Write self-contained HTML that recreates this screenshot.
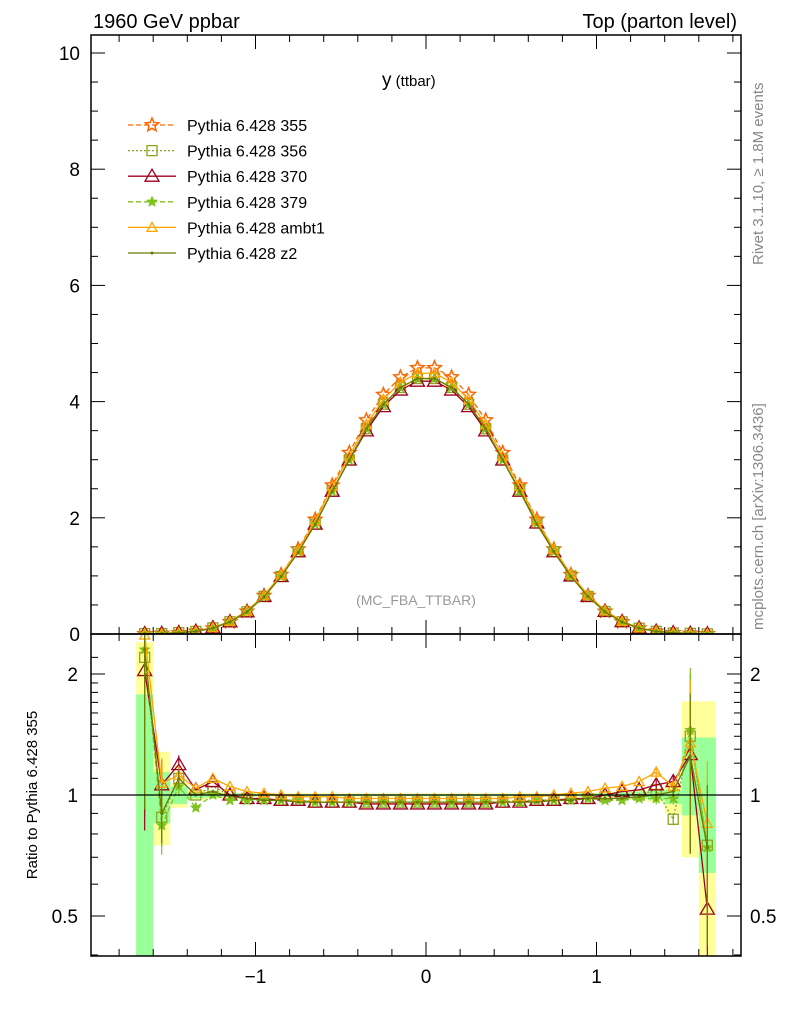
<!DOCTYPE html>
<html><head><meta charset="utf-8"><style>
html,body{margin:0;padding:0;background:#fff;width:786px;height:1024px;overflow:hidden}
svg{display:block;font-family:"Liberation Sans",sans-serif}
</style></head><body>
<svg id="c" width="786" height="1024" viewBox="0 0 786 1024" xmlns="http://www.w3.org/2000/svg"></svg>
<script>
const xCenters=[-1.65,-1.55,-1.45,-1.35,-1.25,-1.15,-1.05,-0.95,-0.85,-0.75,-0.65,-0.55,-0.45,-0.35,-0.25,-0.15,-0.05,0.05,0.15,0.25,0.35,0.45,0.55,0.65,0.75,0.85,0.95,1.05,1.15,1.25,1.35,1.45,1.55,1.65];
const ref355=[0.003,0.008,0.02,0.045,0.10,0.21,0.39,0.66,1.02,1.46,1.97,2.56,3.12,3.68,4.12,4.42,4.58,4.58,4.42,4.12,3.68,3.12,2.56,1.97,1.46,1.02,0.66,0.39,0.21,0.10,0.045,0.02,0.008,0.003];
const r356=[2.2,0.88,1.1,1.0,1.05,1.0,0.98,0.98,0.97,0.97,0.96,0.96,0.96,0.96,0.96,0.96,0.96,0.96,0.96,0.96,0.96,0.96,0.97,0.97,0.97,0.98,0.98,0.99,1.0,1.0,1.03,0.87,1.4,0.75];
const r370=[2.04,1.06,1.19,1.03,1.08,1.0,0.98,0.98,0.97,0.97,0.96,0.96,0.96,0.95,0.95,0.95,0.95,0.95,0.95,0.95,0.95,0.96,0.96,0.97,0.97,0.98,0.98,1.0,1.02,1.03,1.06,1.08,1.26,0.52];
const r379=[2.3,0.84,1.05,0.93,1.0,0.97,0.97,0.97,0.97,0.97,0.96,0.96,0.96,0.96,0.96,0.96,0.96,0.96,0.96,0.96,0.96,0.96,0.96,0.97,0.97,0.97,0.98,0.97,0.97,0.98,0.98,0.98,1.45,0.74];
const rAmbt1=[2.5,1.07,1.12,1.04,1.1,1.05,1.02,1.01,1.0,0.99,0.99,0.99,0.98,0.98,0.98,0.98,0.98,0.98,0.98,0.98,0.98,0.98,0.99,0.99,1.0,1.01,1.02,1.04,1.05,1.08,1.14,1.05,1.35,0.85];
const rZ2=[2.3,0.9,1.1,1.0,1.02,0.99,0.98,0.97,0.97,0.96,0.96,0.96,0.96,0.96,0.96,0.96,0.96,0.96,0.96,0.96,0.96,0.96,0.96,0.96,0.97,0.97,0.98,0.98,0.98,0.99,1.0,1.02,1.25,0.74];
const statLo=[0.1,0.85,0.95,0.98,0.985,0.99,0.99,0.995,0.995,0.995,0.995,0.995,0.995,0.995,0.995,0.995,0.995,0.995,0.995,0.995,0.995,0.995,0.995,0.995,0.995,0.995,0.99,0.99,0.985,0.98,0.97,0.95,0.89,0.64];
const statHi=[1.78,1.14,1.05,1.02,1.015,1.01,1.01,1.005,1.005,1.005,1.005,1.005,1.005,1.005,1.005,1.005,1.005,1.005,1.005,1.005,1.005,1.005,1.005,1.005,1.005,1.005,1.01,1.01,1.015,1.02,1.03,1.03,1.39,1.39];
const totLo=[0.1,0.75,0.93,0.97,0.98,0.985,0.99,0.99,0.99,0.99,0.99,0.99,0.99,0.99,0.99,0.99,0.99,0.99,0.99,0.99,0.99,0.99,0.99,0.99,0.99,0.99,0.99,0.985,0.98,0.975,0.96,0.9,0.7,0.1];
const totHi=[2.4,1.28,1.07,1.03,1.02,1.015,1.01,1.01,1.01,1.01,1.01,1.01,1.01,1.01,1.01,1.01,1.01,1.01,1.01,1.01,1.01,1.01,1.01,1.01,1.01,1.01,1.01,1.015,1.02,1.025,1.04,1.07,1.71,1.71];
const mainTicks=[0,2,4,6,8,10];
const ratioTicks=[0.5,1,2];
const xTicks=[-1,0,1];

const NS="http://www.w3.org/2000/svg";
const svg=document.getElementById('c');
function el(tag,attrs,parent){const e=document.createElementNS(NS,tag);for(const k in attrs)e.setAttribute(k,attrs[k]);(parent||svg).appendChild(e);return e;}
const L=91,R=741,MT=35,MB=634,RT=634,RB=956;
const X=v=>426+v*170.5;
const YM=v=>634-v*58.1;
const YR=v=>795-Math.log2(v)*121;
const clampR=y=>Math.max(RT,Math.min(RB,y));

const defs=el('defs',{});
const c1=el('clipPath',{id:'cm'},defs);el('rect',{x:L,y:MT,width:R-L,height:MB-MT},c1);
const c2=el('clipPath',{id:'cr'},defs);el('rect',{x:L,y:RT,width:R-L,height:RB-RT},c2);

const gb=el('g',{'clip-path':'url(#cr)'});

xCenters.forEach((x,i)=>{
  const x0=X(x-0.05),x1=X(x+0.05);
  const yb=el('rect',{x:x0,y:YR(totHi[i]),width:x1-x0,height:YR(totLo[i])-YR(totHi[i]),fill:'#ffff99'},gb);
  
  const g=el('rect',{x:x0,y:YR(statHi[i]),width:x1-x0,height:YR(statLo[i])-YR(statHi[i]),fill:'#99ff99'},gb);
  
});

const series=[
 {name:'Pythia 6.428 355',r:xCenters.map(()=>1),color:'#ff6600',dash:'5,3',marker:'star',key:'355'},
 {name:'Pythia 6.428 356',r:r356,color:'#8ca51c',dash:'2,2',marker:'square',key:'356'},
 {name:'Pythia 6.428 370',r:r370,color:'#a00020',dash:'',marker:'tri',key:'370'},
 {name:'Pythia 6.428 379',r:r379,color:'#7fc31c',dash:'5,3',marker:'smallstar',key:'379'},
 {name:'Pythia 6.428 ambt1',r:rAmbt1,color:'#ffa500',dash:'',marker:'smalltri',key:'ambt1'},
 {name:'Pythia 6.428 z2',r:rZ2,color:'#6b7b00',dash:'',marker:'dot',key:'z2'}
];
function star(cx,cy,s){let p=[];for(let k=0;k<10;k++){const a=-Math.PI/2+k*Math.PI/5,rr=k%2?s*0.45:s;p.push((cx+rr*Math.cos(a)).toFixed(1)+','+(cy+rr*Math.sin(a)).toFixed(1));}return p.join(' ');}
function marker(g,m,cx,cy,col){
  let e;
  if(m==='star')e=el('polygon',{points:star(cx,cy,7),fill:'none',stroke:col,'stroke-width':1.5},g);
  else if(m==='smallstar')e=el('polygon',{points:star(cx,cy,5),fill:col,stroke:col,'stroke-width':1},g);
  else if(m==='square')e=el('rect',{x:cx-5,y:cy-5,width:10,height:10,fill:'none',stroke:col,'stroke-width':1.3},g);
  else if(m==='tri')e=el('polygon',{points:`${cx},${cy-7} ${cx-7},${cy+5} ${cx+7},${cy+5}`,fill:'none',stroke:col,'stroke-width':1.3},g);
  else if(m==='smalltri')e=el('polygon',{points:`${cx},${cy-5} ${cx-5},${cy+4} ${cx+5},${cy+4}`,fill:'none',stroke:col,'stroke-width':1.3},g);
  else e=el('circle',{cx:cx,cy:cy,r:1.5,fill:col},g);
  
}
series.forEach(s=>{
  const gm=el('g',{'clip-path':'url(#cm)'});
  
  const pts=xCenters.map((x,i)=>[X(x),YM(ref355[i]*s.r[i])]);
  const pl=el('polyline',{points:pts.map(p=>p.join(',')).join(' '),fill:'none',stroke:s.color,'stroke-width':1.3,'stroke-dasharray':s.dash},gm);
  
  pts.forEach(p=>marker(gm,s.marker,p[0],p[1],s.color));
  const gr=el('g',{'clip-path':'url(#cr)'});
  
  const rp=xCenters.map((x,i)=>[X(x),YR(s.r[i])]);
  if(s.key!=='355'){
    const rl=el('polyline',{points:rp.map(p=>p.join(',')).join(' '),fill:'none',stroke:s.color,'stroke-width':1.3,'stroke-dasharray':s.dash},gr);
    
    rp.forEach((p,i)=>{
      const e=Math.min(0.6,Math.abs(statHi[i]-1)*1.1);
      if(e>0.03){const eb=el('line',{x1:p[0],x2:p[0],y1:clampR(YR(s.r[i]*(1+e))),y2:clampR(YR(Math.max(0.05,s.r[i]*(1-e)))),stroke:s.color,'stroke-width':1.2},gr);
        }
      marker(gr,s.marker,p[0],p[1],s.color);
    });
  }
});
const one=el('line',{x1:L,x2:R,y1:YR(1),y2:YR(1),stroke:'#000','stroke-width':1.2});


const f1=el('rect',{x:L,y:MT,width:R-L,height:MB-MT,fill:'none',stroke:'#000','stroke-width':1.5});

const f2=el('rect',{x:L,y:RT,width:R-L,height:RB-RT,fill:'none',stroke:'#000','stroke-width':1.5});


const tg=el('g',{stroke:'#000','stroke-width':1});

for(let v=0;v<=10.5;v+=0.5){const y=YM(v);if(y<MT)continue;const len=(Math.abs(v%2)<0.01)?14:7;
  el('line',{x1:L,x2:L+len,y1:y,y2:y},tg);el('line',{x1:R,x2:R-len,y1:y,y2:y},tg);}
[0.4,0.5,0.6,0.7,0.8,0.9,1,1.1,1.2,1.3,1.4,1.5,1.6,1.7,1.8,1.9,2,2.2].forEach(v=>{const y=YR(v);if(y<RT||y>RB)return;const len=ratioTicks.includes(v)?14:7;
  el('line',{x1:L,x2:L+len,y1:y,y2:y},tg);el('line',{x1:R,x2:R-len,y1:y,y2:y},tg);});
for(let v=-1.8;v<=1.81;v+=0.2){const x=X(v);const maj=Math.abs(v-Math.round(v))<0.01;const len=maj?14:7;
  el('line',{x1:x,x2:x,y1:MB,y2:MB-len},tg);el('line',{x1:x,x2:x,y1:MT,y2:MT+len},tg);
  el('line',{x1:x,x2:x,y1:RB,y2:RB-len},tg);el('line',{x1:x,x2:x,y1:RT,y2:RT+len},tg);}

function text(str,attrs,name){const t=el('text',attrs);t.textContent=str;return t;}
mainTicks.forEach(v=>text(String(v),{x:80,y:YM(v)+7,'text-anchor':'end','font-size':19},'y-tick-label'));
ratioTicks.forEach(v=>{text(String(v),{x:78,y:YR(v)+7,'text-anchor':'end','font-size':19},'ratio-tick-label-left');
  text(String(v),{x:750,y:YR(v)+7,'text-anchor':'start','font-size':19},'ratio-tick-label-right');});
xTicks.forEach(v=>text(v<0?'\u2212'+(-v):String(v),{x:X(v),y:983,'text-anchor':'middle','font-size':19},'x-tick-label'));

text('1960 GeV ppbar',{x:93,y:28,'font-size':20},'energy-label');
text('Top (parton level)',{x:737,y:28,'text-anchor':'end','font-size':20},'process-label');
const tt=text('y',{x:382,y:86,'font-size':19},'plot-title');
const ts=el('tspan',{'font-size':15});ts.textContent=' (ttbar)';tt.appendChild(ts);
text('(MC_FBA_TTBAR)',{x:416,y:605,'text-anchor':'middle','font-size':14,fill:'#999'},'analysis-label');
text('Rivet 3.1.10, \u2265 1.8M events',{x:0,y:0,'font-size':15,fill:'#888',transform:'translate(763,265) rotate(-90)'},'rivet-label');
text('mcplots.cern.ch [arXiv:1306.3436]',{x:0,y:0,'font-size':15,fill:'#888',transform:'translate(763,630) rotate(-90)'},'mcplots-label');
text('Ratio to Pythia 6.428 355',{x:0,y:0,'font-size':15,'text-anchor':'middle',transform:'translate(37,795) rotate(-90)'},'ratio-y-axis-title');

const lg=el('g',{});

series.forEach((s,i)=>{
  const y=125+i*25.6;
  const g=el('g',{},lg);
  
  el('line',{x1:128,x2:176,y1:y,y2:y,stroke:s.color,'stroke-width':1.3,'stroke-dasharray':s.dash},g);
  marker(g,s.marker,152,y,s.color);
  const t=el('text',{x:187,y:y+6,'font-size':16},g);t.textContent=s.name;
  
});
</script>
</body></html>
